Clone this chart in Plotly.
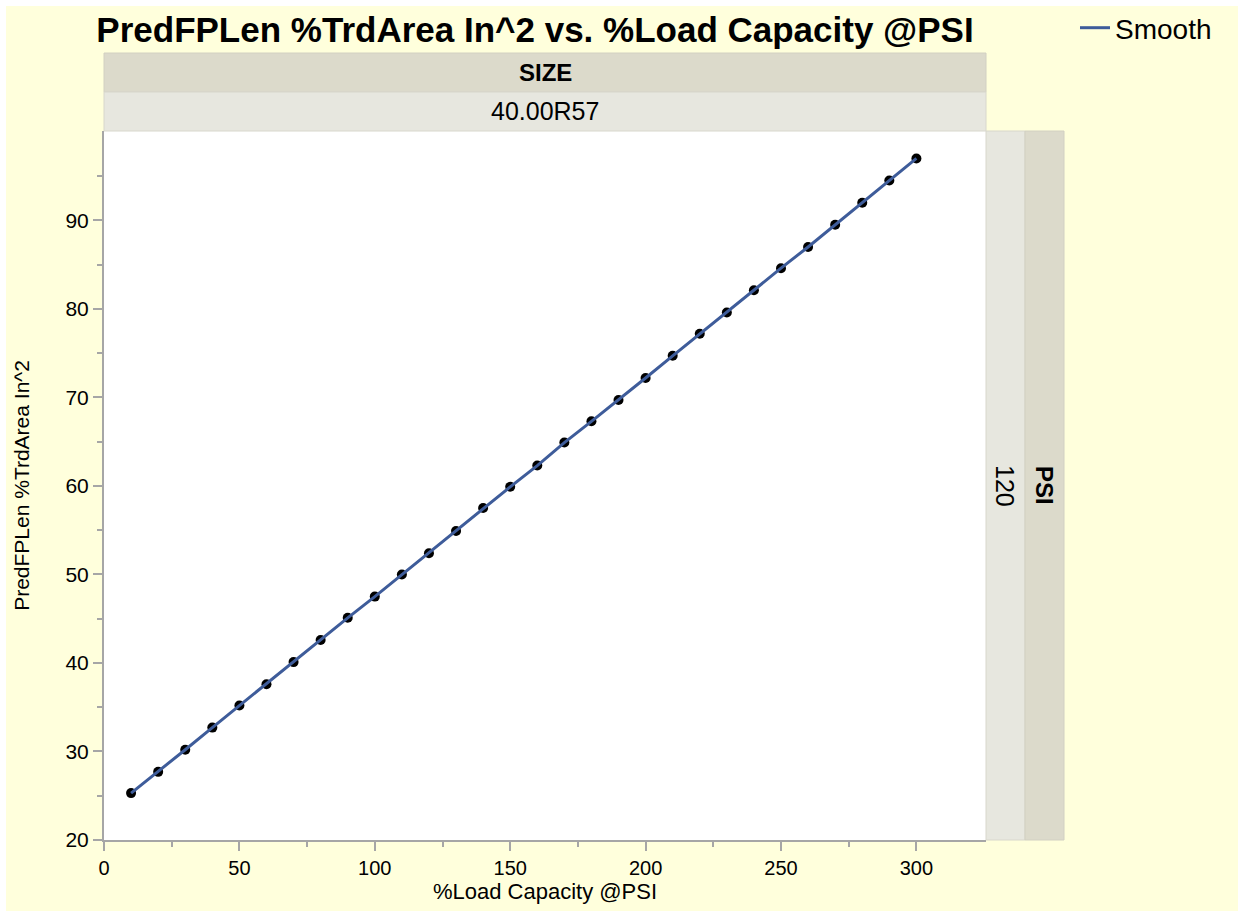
import plotly.graph_objects as go

# Predicted footprint length (% tread area, in^2) vs. % load capacity, SIZE 40.00R57 @ 120 PSI
load_pct = [10, 20, 30, 40, 50, 60, 70, 80, 90, 100,
            110, 120, 130, 140, 150, 160, 170, 180, 190, 200,
            210, 220, 230, 240, 250, 260, 270, 280, 290, 300]
trd_area = [25.3, 27.7, 30.2, 32.7, 35.2, 37.6, 40.1, 42.6, 45.1, 47.5,
            50.0, 52.4, 54.9, 57.5, 59.9, 62.3, 64.9, 67.3, 69.7, 72.2,
            74.7, 77.2, 79.6, 82.1, 84.6, 87.0, 89.5, 92.0, 94.5, 97.0]

size_label = "40.00R57"
psi_label = "120"
x_ticks = [0, 50, 100, 150, 200, 250, 300]
x_minor = [25, 75, 125, 175, 225, 275]
y_ticks = [20, 30, 40, 50, 60, 70, 80, 90]
y_minor = [25, 35, 45, 55, 65, 75, 85, 95]

W, H = 1238, 911
L, R, T, B = 104, 986, 131, 840
FONT = "Liberation Sans, Arial, Helvetica, sans-serif"
BG = "#FFFFDC"
STRIP_DARK = "#DCDACB"
STRIP_LIGHT = "#E7E7DF"
AXIS_GRAY = "#A6A6A6"
LINE_BLUE = "#3E5C9A"


def fx(p):
    return (p - L) / (R - L)


def fy(p):
    return (B - p) / (B - T)


fig = go.Figure()

fig.add_trace(go.Scatter(
    x=load_pct, y=trd_area, mode="markers",
    marker=dict(color="black", size=10),
    showlegend=False, hoverinfo="skip",
))
fig.add_trace(go.Scatter(
    x=load_pct, y=trd_area, mode="lines",
    line=dict(color=LINE_BLUE, width=3),
    name="Smooth",
))

shapes = [
    # thin white edge along top and left of the page
    dict(type="rect", xref="paper", yref="paper", x0=fx(0), x1=fx(W), y0=fy(0), y1=fy(6),
         fillcolor="white", line=dict(width=0), layer="below"),
    dict(type="rect", xref="paper", yref="paper", x0=fx(0), x1=fx(6), y0=fy(H), y1=fy(0),
         fillcolor="white", line=dict(width=0), layer="below"),
    # column strip headers
    dict(type="rect", xref="paper", yref="paper", x0=0, x1=1, y0=fy(92), y1=fy(53),
         fillcolor=STRIP_DARK, line=dict(color="#D2D0C2", width=1)),
    dict(type="rect", xref="paper", yref="paper", x0=0, x1=1, y0=fy(131), y1=fy(92),
         fillcolor=STRIP_LIGHT, line=dict(color="#D8D7CC", width=1)),
    # row strip headers
    dict(type="rect", xref="paper", yref="paper", x0=fx(986), x1=fx(1025), y0=0, y1=1,
         fillcolor=STRIP_LIGHT, line=dict(color="#D8D7CC", width=1)),
    dict(type="rect", xref="paper", yref="paper", x0=fx(1025), x1=fx(1064), y0=0, y1=1,
         fillcolor=STRIP_DARK, line=dict(color="#D2D0C2", width=1)),
]

annotations = [
    dict(text="<b>SIZE</b>", xref="paper", yref="paper", x=0.5, y=fy(72.5),
         xanchor="center", yanchor="middle",
         showarrow=False, font=dict(size=24, color="black", family=FONT)),
    dict(text=size_label, xref="paper", yref="paper", x=0.5, y=fy(111.5),
         xanchor="center", yanchor="middle",
         showarrow=False, font=dict(size=25, color="black", family=FONT)),
    dict(text=psi_label, xref="paper", yref="paper", x=fx(1005.5), y=0.5, textangle=90,
         xanchor="center", yanchor="middle",
         showarrow=False, font=dict(size=25, color="black", family=FONT)),
    dict(text="<b>PSI</b>", xref="paper", yref="paper", x=fx(1044.5), y=0.5, textangle=90,
         xanchor="center", yanchor="middle",
         showarrow=False, font=dict(size=24, color="black", family=FONT)),
]

fig.update_layout(
    width=W, height=H,
    margin=dict(l=L, r=W - R, t=T, b=H - B, pad=0),
    paper_bgcolor=BG, plot_bgcolor="white",
    font=dict(family=FONT, color="black", size=20),
    title=dict(
        text="<b>PredFPLen %TrdArea In^2 vs. %Load Capacity @PSI</b>",
        x=535 / W, xref="container", xanchor="center",
        y=1 - 30 / H, yref="container", yanchor="middle",
        font=dict(size=35, family=FONT, color="black"),
    ),
    legend=dict(
        x=1075 / W, xref="container", xanchor="left",
        y=1 - 28 / H, yref="container", yanchor="middle",
        bgcolor="rgba(0,0,0,0)", font=dict(size=28, family=FONT),
        itemwidth=30,
    ),
    shapes=shapes,
    annotations=annotations,
    xaxis=dict(
        range=[0, 325.7], tickvals=x_ticks, showgrid=False, zeroline=False,
        showline=True, linecolor=AXIS_GRAY, linewidth=2,
        ticks="outside", ticklen=9, tickcolor=AXIS_GRAY, tickwidth=1.5,
        minor=dict(tickvals=x_minor, ticks="outside", ticklen=5, tickcolor=AXIS_GRAY, tickwidth=1.5),
        tickfont=dict(size=20),
        title=dict(text="%Load Capacity @PSI", font=dict(size=22), standoff=4),
    ),
    yaxis=dict(
        range=[20, 100.1], tickvals=y_ticks, showgrid=False, zeroline=False,
        showline=True, linecolor=AXIS_GRAY, linewidth=2,
        ticks="outside", ticklen=9, tickcolor=AXIS_GRAY, tickwidth=1.5,
        minor=dict(tickvals=y_minor, ticks="outside", ticklen=5, tickcolor=AXIS_GRAY, tickwidth=1.5),
        tickfont=dict(size=21),
        title=dict(text="PredFPLen %TrdArea In^2", font=dict(size=21), standoff=30),
    ),
)

fig.write_html("out.html")
